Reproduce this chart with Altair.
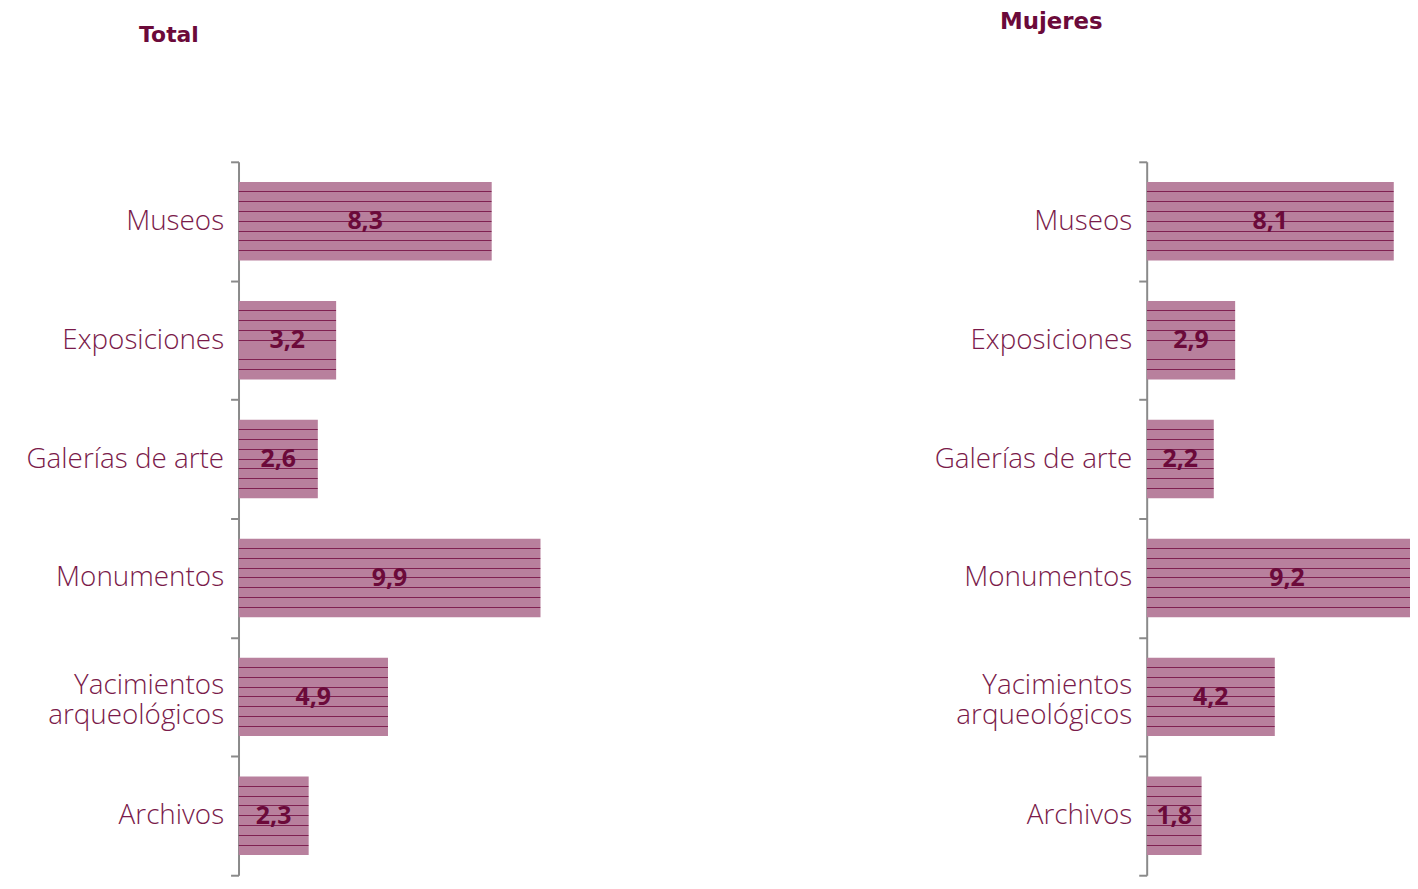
import altair as alt
import pandas as pd

categories = ["Museos", "Exposiciones", "Galerías de arte", "Monumentos",
              "Yacimientos arqueológicos", "Archivos"]
total_values = [8.3, 3.2, 2.6, 9.9, 4.9, 2.3]
mujeres_values = [8.1, 2.9, 2.2, 9.2, 4.2, 1.8]
panel_titles = ["Total", "Mujeres"]

BASE = "#b8809d"
LINE = "#7f2151"
LABEL = "#7a1a4a"
VALUE = "#6b0a3a"
PX_PER_UNIT = 30.7

stops = [alt.GradientStop(offset=0, color=BASE)]
for k in range(1, 8):
    c = k / 8
    stops += [
        alt.GradientStop(offset=c - 0.006, color=BASE),
        alt.GradientStop(offset=c - 0.006, color=LINE),
        alt.GradientStop(offset=c + 0.006, color=LINE),
        alt.GradientStop(offset=c + 0.006, color=BASE),
    ]
stops.append(alt.GradientStop(offset=1, color=BASE))
stripes = alt.LinearGradient(gradient="linear", x1=0, y1=0, x2=0, y2=1, stops=stops)

MULTI = "Yacimientos arqueológicos"
label_expr = ("datum.label == '" + MULTI + "' ? "
              "['Yacimientos\u00a0\u00a0', 'arqueológicos'] : datum.label")

FONT = "Open Sans"


def panel(values, title, tx, ty, tsize, width):
    df = pd.DataFrame({"cat": categories, "v": values})
    dom = [0, width / PX_PER_UNIT]
    base = alt.Chart(df).encode(
        y=alt.Y("cat:N", sort=categories,
                scale=alt.Scale(paddingInner=0, paddingOuter=0),
                axis=alt.Axis(title=None, labelExpr=label_expr, labelFont=FONT,
                              labelFontWeight=300, labelFontSize=28, labelColor=LABEL,
                              labelLineHeight=30, labelPadding=7, tickSize=8,
                              tickColor="#8a8a8a", tickWidth=2, domainColor="#8a8a8a",
                              domainWidth=2, tickBand="extent", labelLimit=400,
                              minExtent=225,
                              labelOffset={"condition": {"test": "datum.value == '" + MULTI + "'",
                                                         "value": -11}, "value": 0})),
    )
    bars = base.mark_bar(color=stripes, clip=True, height={"band": 0.66}).encode(
        x=alt.X("v:Q", scale=alt.Scale(domain=dom), axis=None)
    )
    text = base.transform_calculate(
        half="datum.v / 2",
        lab="replace(format(datum.v, '.1f'), '.', ',')",
    ).mark_text(font=FONT, fontWeight="bold", fontSize=25, color=VALUE).encode(
        x=alt.X("half:Q", scale=alt.Scale(domain=dom), axis=None),
        text="lab:N",
    )
    ttl = alt.Chart(pd.DataFrame({"t": [title]})).mark_text(
        font="DejaVu Sans", fontWeight="bold", fontSize=tsize, color="#6b0a3a",
        baseline="alphabetic", align="center",
    ).encode(text="t:N", x=alt.value(tx), y=alt.value(ty))
    return alt.layer(bars, text, ttl).properties(width=width, height=718)


LEFT_W = 400
RIGHT_W = 265
left = panel(total_values, panel_titles[0], -70, -121, 22, LEFT_W)
right = panel(mujeres_values, panel_titles[1], -96, -134, 23, RIGHT_W)

chart = alt.hconcat(left, right, spacing=914 - LEFT_W, bounds="flush").configure_view(
    stroke=None
).properties(padding={"left": 7, "top": 0, "right": 0, "bottom": 0})

chart.save("out.html", embed_options={"renderer": "svg", "actions": False})
